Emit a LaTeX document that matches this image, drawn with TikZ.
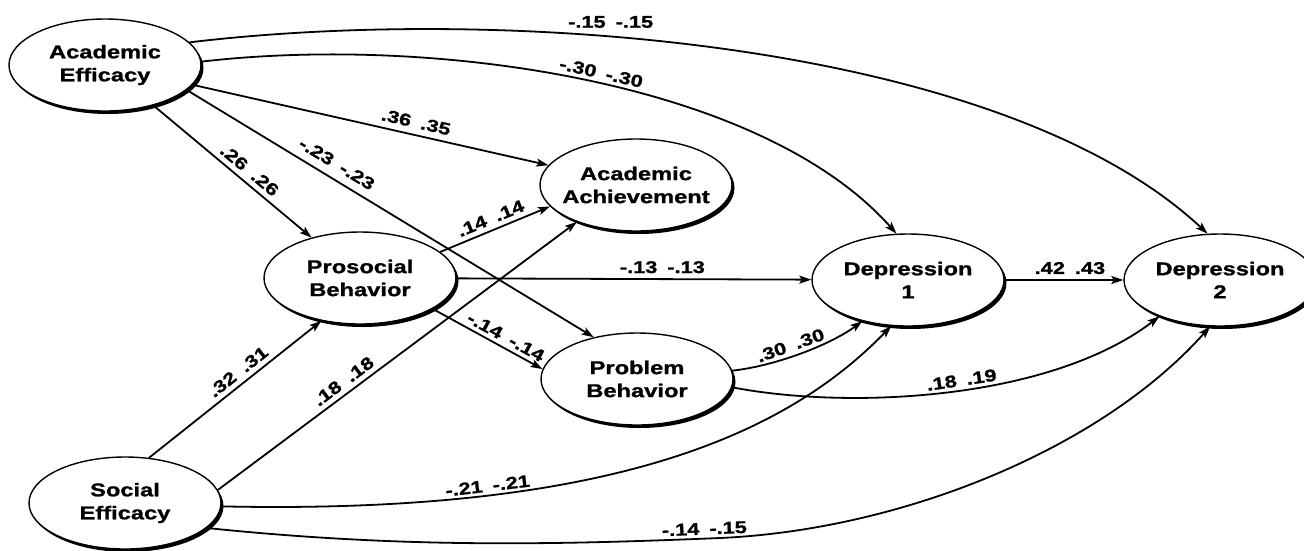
\documentclass[tikz,border=0pt]{standalone}
\usepackage{fontspec}
\newfontfamily\dfont{Liberation Sans}[FakeStretch=1.28, BoldFeatures={FakeBold=1.2}]
\usetikzlibrary{arrows.meta,shapes.geometric,shadows}
\newcommand{\coefpair}[2]{#1\hspace{10pt}#2}
\tikzset{
  var/.style={ellipse, draw=black, line width=1.4pt, fill=white,
    minimum width=192pt, minimum height=92pt, inner sep=0pt,
    general shadow={shadow xshift=2.5pt, shadow yshift=-3pt, fill=black}},
  vtext/.style={font=\dfont\bfseries\fontsize{18.5}{23}\selectfont, align=center, inner sep=0pt},
  conn/.style={line width=1.8pt, -{Stealth[length=12pt,width=8pt,inset=2.5pt]}},
  coef/.style={font=\dfont\bfseries\fontsize{17}{20}\selectfont, inner sep=0pt},
}
\begin{document}
\begin{tikzpicture}[x=1pt,y=-1pt]
\fill[white] (0,0) rectangle (1304,550);
\useasboundingbox (0,0) rectangle (1304,550);

\node[var, label={[vtext]center:{Academic\\Efficacy}}] (ae) at (105,65) {};
\node[var, label={[vtext]center:{Academic\\Achievement}}] (aa) at (636,185) {};
\node[var, label={[vtext]center:{Prosocial\\Behavior}}] (pro) at (360,278) {};
\node[var, label={[vtext]center:{Problem\\Behavior}}] (pb) at (637,379) {};
\node[var, label={[vtext]center:{Depression\\1}}] (dep1) at (908,280) {};
\node[var, label={[vtext]center:{Depression\\2}}] (dep2) at (1220,280) {};
\node[var, label={[vtext]center:{Social\\Efficacy}}] (se) at (125,503) {};

\draw[conn] (ae.15.5) .. controls (500,5) and (1000,40) .. (dep2.105)
  node[coef,pos=0.39,above=8pt]{\coefpair{-.15}{-.15}};
\draw[conn] (ae.2) .. controls (430,35) and (760,80) .. (dep1.104)
  node[coef,pos=0.52,sloped,above=4pt]{\coefpair{-.30}{-.30}};
\draw[conn] (ae) -- (aa) node[coef,pos=0.62,sloped,above=6pt]{\coefpair{.36}{.35}};
\draw[conn] (ae) -- (pro) node[coef,pos=0.56,sloped,above=5pt]{\coefpair{.26}{.26}};
\draw[conn] (ae.-17) -- (pb.136) node[coef,pos=0.35,sloped,above=8pt]{\coefpair{-.23}{-.23}};
\draw[conn] (pro.18) -- (aa.194) node[coef,pos=0.5,sloped,above=5pt]{\coefpair{.14}{.14}};
\draw[conn] (se.8) -- (aa.212) node[coef,pos=0.37,sloped,above=5pt]{\coefpair{.18}{.18}};
\draw[conn] (se.62) -- (pro.228) node[coef,pos=0.56,sloped,above=5pt]{\coefpair{.32}{.31}};
\draw[conn] (pro) -- (dep1) node[coef,pos=0.58,above=5pt]{\coefpair{-.13}{-.13}};
\draw[conn] (pro.-23) -- (pb.174) node[coef,pos=0.62,sloped,above=4pt]{\coefpair{-.14}{-.14}};
\draw[conn] (dep1) -- (dep2) node[coef,pos=0.55,above=5pt]{\coefpair{.42}{.43}};
\draw[conn] (pb.5) .. controls (775,366) and (830,345) .. (dep1.222)
  node[coef,pos=0.45,sloped,above=4pt]{\coefpair{.30}{.30}};
\draw[conn] (pb.-5) .. controls (850,410) and (1050,400) .. (dep2.211)
  node[coef,pos=0.53,sloped,above=3pt]{\coefpair{.18}{.19}};
\draw[conn] (se.-2) .. controls (620,515) and (790,430) .. (dep1.250)
  node[coef,pos=0.26,sloped,above=3pt]{\coefpair{-.21}{-.21}};
\draw[conn] (se.-17) .. controls (400,548) and (550,545) .. (720,538)
  node[coef,pos=0.97,sloped,above=3pt]{\coefpair{-.14}{-.15}}
  .. controls (900,530) and (1100,450) .. (dep2.258);
\end{tikzpicture}
\end{document}
